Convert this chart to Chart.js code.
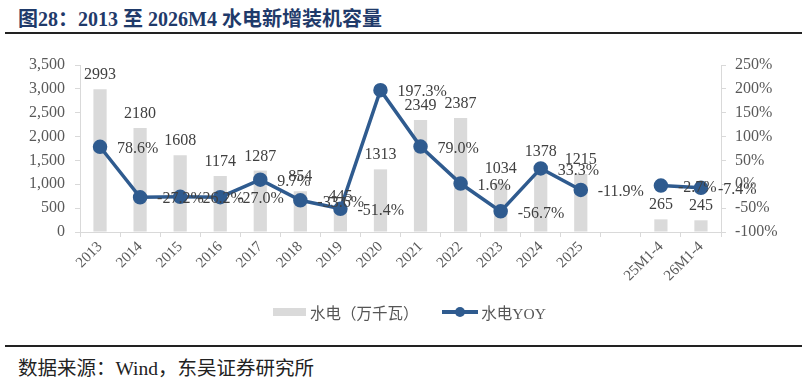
<!DOCTYPE html>
<html><head><meta charset="utf-8">
<script src="https://cdn.jsdelivr.net/npm/chart.js@4"></script>
<style>
html,body{margin:0;padding:0;background:#fff;width:805px;height:381px;overflow:hidden;position:relative}
#title{position:absolute;left:18px;top:3px;font:bold 20px "Liberation Serif","Noto Sans CJK SC",serif;color:#1f3a6a;white-space:nowrap}
.rule{position:absolute;left:5px;width:797px;height:2px;background:#222}
#src{position:absolute;left:18px;top:352px;font:19.5px "Liberation Serif","Noto Sans CJK SC",serif;color:#222;white-space:nowrap}
#wrap{position:absolute;left:0;top:36px;width:805px;height:300px}
#legend{position:absolute;top:301px;left:273px;font:15.5px "Liberation Serif","Noto Sans CJK SC",serif;color:#555;white-space:nowrap}
#legend span{display:inline-block;vertical-align:middle}
</style></head><body>
<div id="title">图28：2013 至 2026M4 水电新增装机容量</div>
<div class="rule" style="top:32px"></div>
<div id="wrap"><canvas id="c" width="805" height="300"></canvas></div>
<div id="legend">
<span style="width:33px;height:8px;background:#dadada;margin-right:4px"></span><span>水电（万千瓦）</span>
<span style="width:16px"></span>
<span style="position:relative;width:36px;height:10px;margin-right:3px"><span style="position:absolute;left:0;top:3px;width:36px;height:4px;background:#2f5b8f"></span><span style="position:absolute;left:13px;top:0;width:10px;height:10px;border-radius:5px;background:#2f5b8f"></span></span><span>水电YOY</span>
</div>
<div class="rule" style="top:345px"></div>
<div id="src">数据来源：Wind，东吴证券研究所</div>
<script>
const categories = ["2013","2014","2015","2016","2017","2018","2019","2020","2021","2022","2023","2024","2025","","25M1-4","26M1-4"];
const capacity = [2993,2180,1608,1174,1287,854,445,1313,2349,2387,1034,1378,1215,null,265,245];
const yoy = [78.6,-27.2,-26.2,-27.0,9.7,-33.6,-51.4,197.3,79.0,1.6,-56.7,33.3,-11.9,null,-2.7,-7.4];
const leftTicks = [0,500,1000,1500,2000,2500,3000,3500];
const rightTicks = [-100,-50,0,50,100,150,200,250];

const serif = '"Liberation Serif","Times New Roman",serif';
const labelPlugin = {
  id:'labels',
  afterDatasetsDraw(chart){
    const ctx = chart.ctx;
    ctx.save();
    ctx.font = '16px ' + serif;
    ctx.fillStyle = '#404040';
    const bars = chart.getDatasetMeta(0).data;
    ctx.textAlign = 'center'; ctx.textBaseline = 'alphabetic';
    bars.forEach((b,i)=>{ if(capacity[i]==null) return; ctx.fillText(String(capacity[i]), b.x, b.y-10); });
    const pts = chart.getDatasetMeta(1).data;
    ctx.textAlign = 'left'; ctx.textBaseline = 'middle';
    pts.forEach((p,i)=>{ if(yoy[i]==null) return; ctx.fillText(yoy[i].toFixed(1)+'%', p.x+17, p.y+2); });
    ctx.restore();
  }
};

new Chart(document.getElementById('c'), {
  data:{
    labels:categories,
    datasets:[
      {type:'bar', data:capacity, backgroundColor:'#dadada', yAxisID:'y', barPercentage:0.33, categoryPercentage:1, order:2},
      {type:'line', data:yoy, borderColor:'#2f5b8f', backgroundColor:'#2f5b8f', borderWidth:3.5, pointRadius:5.5, pointHoverRadius:5.5, yAxisID:'y1', spanGaps:false, tension:0, order:1}
    ]
  },
  options:{
    responsive:false, animation:false, devicePixelRatio:1,
    layout:{padding:{top:29,left:0,right:0,bottom:0}},
    plugins:{legend:{display:false}, tooltip:{enabled:false}},
    scales:{
      x:{offset:true, grid:{offset:true, drawOnChartArea:false, tickLength:5, color:'#d9d9d9'}, border:{color:'#d9d9d9'},
         ticks:{minRotation:45, maxRotation:45, autoSkip:false, color:'#595959', font:{family:serif, size:15}, padding:1},
         afterFit(s){ s.height = 104; }},
      y:{position:'left', min:0, max:3500, afterBuildTicks(s){ s.ticks = leftTicks.map(v=>({value:v})); },
         grid:{drawOnChartArea:false, tickLength:5, color:'#d9d9d9'}, border:{color:'#d9d9d9'},
         ticks:{color:'#595959', font:{family:serif, size:16}, padding:10, callback:v=>v.toLocaleString('en-US')},
         afterFit(s){ s.width = 80; }},
      y1:{position:'right', min:-100, max:250, afterBuildTicks(s){ s.ticks = rightTicks.map(v=>({value:v})); },
         grid:{drawOnChartArea:false, tickLength:5, color:'#d9d9d9'}, border:{color:'#d9d9d9'},
         ticks:{color:'#595959', font:{family:serif, size:16}, padding:9, callback:v=>v+'%'},
         afterFit(s){ s.width = 84; }}
    }
  },
  plugins:[labelPlugin]
});
</script>
</body></html>
